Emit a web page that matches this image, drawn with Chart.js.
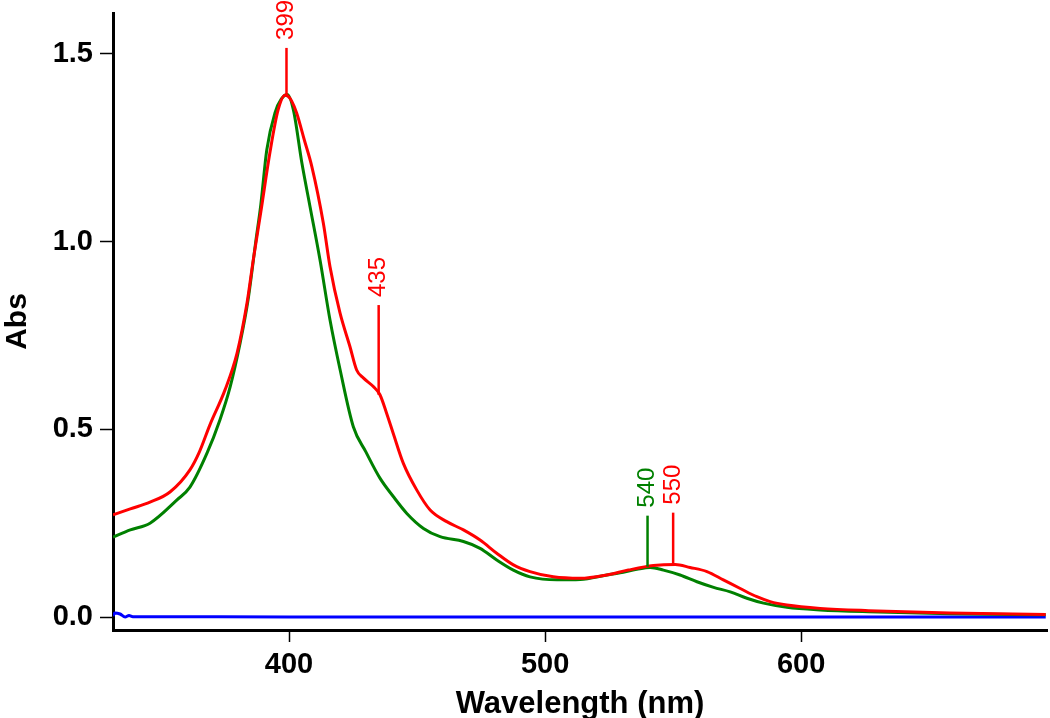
<!DOCTYPE html>
<html>
<head>
<meta charset="utf-8">
<script src="https://cdn.jsdelivr.net/npm/chart.js@4.4.1/dist/chart.umd.min.js"></script>
<style>
  body { margin: 0; background: #fff; }
  #wrap { width: 1050px; height: 718px; }
</style>
</head>
<body>
<div id="wrap"><canvas id="absChart" width="1050" height="718"></canvas></div>
<script>
// spectrum (wavelength nm / absorbance)
var redX = [331.25, 338, 345.7, 353.5, 361.3, 365, 369.1, 375, 379.7, 383.6, 386, 389, 392.6, 395.7, 398.4, 399.5, 401, 403, 406, 408.9, 413.4, 416, 419.9, 423.8, 426.4, 429, 432.9, 435.5, 438, 440.7, 444.6, 449.9, 455.1, 461.6, 468.1, 474.6, 481.1, 487.6, 494.1, 503.2, 513.7, 524.1, 532.5, 542.3, 550.8, 556.6, 563.2, 569.6, 576.2, 582.7, 587.9, 594.4, 607.4, 626.3, 658, 695.5];
var redY = [0.272, 0.288, 0.306, 0.333, 0.392, 0.44, 0.512, 0.605, 0.703, 0.837, 0.95, 1.08, 1.24, 1.35, 1.39, 1.388, 1.375, 1.342, 1.27, 1.2, 1.049, 0.933, 0.81, 0.72, 0.658, 0.637, 0.614, 0.592, 0.545, 0.489, 0.41, 0.338, 0.285, 0.254, 0.232, 0.205, 0.17, 0.139, 0.121, 0.107, 0.103, 0.112, 0.125, 0.137, 0.14, 0.132, 0.121, 0.099, 0.076, 0.054, 0.041, 0.032, 0.023, 0.017, 0.011, 0.007];

var greenX = [331.25, 338, 345.7, 356.25, 361.3, 368, 373, 377, 380.9, 384, 387, 389, 391.3, 394.5, 397, 399.3, 401.7, 405, 408.2, 412.1, 416, 419.9, 425.1, 430, 435.5, 440.7, 446, 452.5, 459, 468.1, 474.6, 481.1, 487.6, 494.1, 504.6, 513.7, 524.1, 529.3, 535.8, 541, 546.2, 552.7, 559.3, 565.8, 572.3, 578.8, 585.3, 594.4, 607.4, 626.3, 658, 695.5];
var greenY = [0.213, 0.232, 0.25, 0.312, 0.346, 0.437, 0.525, 0.613, 0.73, 0.845, 1.0, 1.1, 1.244, 1.343, 1.38, 1.392, 1.351, 1.21, 1.093, 0.951, 0.791, 0.66, 0.507, 0.44, 0.37, 0.321, 0.276, 0.236, 0.214, 0.201, 0.183, 0.152, 0.125, 0.107, 0.099, 0.1, 0.112, 0.118, 0.127, 0.132, 0.125, 0.112, 0.094, 0.079, 0.067, 0.05, 0.037, 0.026, 0.019, 0.014, 0.009, 0.006];

var blueX = [331.25, 332, 334, 336, 337.5, 339, 345, 400, 500, 580, 600, 650, 695.5];
var blueY = [0.003, 0.011, 0.008, 0.0, 0.004, 0.001, 0.001, 0.0, 0.0, 0.0, 0.0, 0.0, 0.0];

var xTicks = [400, 500, 600];
var yTicks = [0.0, 0.5, 1.0, 1.5];

// peak markers
var peakLabels = ['399', '435', '540', '550'];
var peakX = [399, 435, 540, 550];
var peakBase = [1.391, 0.592, 0.134, 0.139];
var peakTop = [1.516, 0.831, 0.27, 0.278];
var peakColors = ['#ff0000', '#ff0000', '#008000', '#ff0000'];

function pts(xs, ys) {
  return xs.map(function (x, i) { return { x: x, y: ys[i] }; });
}

var peakMarks = {
  id: 'peakMarks',
  afterDatasetsDraw: function (chart) {
    var c = chart.ctx, xs = chart.scales.x, ys = chart.scales.y;
    c.save();
    c.font = '24px Arial, "Liberation Sans", sans-serif';
    c.lineWidth = 2.5;
    for (var i = 0; i < peakLabels.length; i++) {
      var px = xs.getPixelForValue(peakX[i]);
      var y1 = ys.getPixelForValue(peakBase[i]);
      var y2 = ys.getPixelForValue(peakTop[i]);
      c.strokeStyle = peakColors[i];
      c.fillStyle = peakColors[i];
      c.beginPath();
      c.moveTo(px, y1);
      c.lineTo(px, y2);
      c.stroke();
      c.save();
      c.translate(px, y2 - 8);
      c.rotate(-Math.PI / 2);
      c.textAlign = 'left';
      c.textBaseline = 'middle';
      c.fillText(peakLabels[i], 0, 0);
      c.restore();
    }
    c.restore();
  }
};

var font = 'Arial, "Liberation Sans", sans-serif';

var ctx = document.getElementById('absChart');
var absChart = new Chart(ctx, {
  type: 'line',
  data: {
    datasets: [
      { data: pts(redX, redY), borderColor: '#ff0000', borderWidth: 3, order: 0 },
      { data: pts(greenX, greenY), borderColor: '#008000', borderWidth: 3, order: 1 },
      { data: pts(blueX, blueY), borderColor: '#0000ff', borderWidth: 3, order: 2 }
    ]
  },
  options: {
    responsive: false,
    animation: false,
    elements: { point: { radius: 0 }, line: { cubicInterpolationMode: 'monotone' } },
    layout: { padding: { top: 13, right: 3, left: 0, bottom: 0 } },
    plugins: { legend: { display: false }, tooltip: { enabled: false } },
    scales: {
      x: {
        type: 'linear',
        min: 331.25,
        max: 696,
        afterBuildTicks: function (s) { s.ticks = xTicks.map(function (v) { return { value: v }; }); },
        afterFit: function (s) { s.height = 88; s.paddingLeft = 0; s.paddingRight = 0; },
        border: { color: '#000', width: 3 },
        grid: { drawOnChartArea: false, drawTicks: true, tickLength: 12, tickColor: '#000', tickWidth: 1.5 },
        ticks: { color: '#000', padding: 6, maxRotation: 0, font: { family: font, size: 29, weight: 'bold' } },
        title: { display: true, text: 'Wavelength (nm)', color: '#000', padding: { top: 0, bottom: -5 }, font: { family: font, size: 31, weight: 'bold' } }
      },
      y: {
        type: 'linear',
        min: -0.0346,
        max: 1.609,
        afterBuildTicks: function (s) { s.ticks = yTicks.map(function (v) { return { value: v }; }); },
        afterFit: function (s) { s.width = 113; s.paddingTop = 0; s.paddingBottom = 0; },
        border: { color: '#000', width: 3 },
        grid: { drawOnChartArea: false, drawTicks: true, tickLength: 13, tickColor: '#000', tickWidth: 1.5 },
        ticks: {
          color: '#000', padding: 7,
          font: { family: font, size: 29, weight: 'bold' },
          callback: function (v) { return Number(v).toFixed(1); }
        },
        title: { display: true, text: 'Abs', color: '#000', padding: 0, font: { family: font, size: 30, weight: 'bold' } }
      }
    }
  },
  plugins: [peakMarks]
});
</script>
</body>
</html>
